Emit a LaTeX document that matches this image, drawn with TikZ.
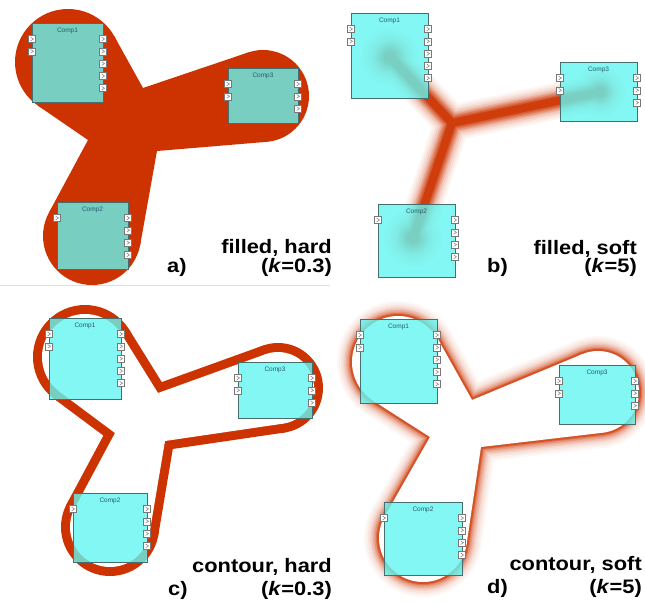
\documentclass[tikz,border=0pt]{standalone}
\usepackage{fontspec}
\setsansfont{Liberation Sans}
\usetikzlibrary{calc}

\definecolor{hotred}{RGB}{204,51,0}
\definecolor{compcyan}{RGB}{100,245,240}
\definecolor{compedge}{RGB}{70,110,110}
\definecolor{comptext}{RGB}{40,90,110}
\definecolor{portgray}{RGB}{120,120,120}
\definecolor{rulegray}{RGB}{232,218,218}

\tikzset{
  comp/.style={rectangle, draw=compedge, fill=compcyan, fill opacity=0.8, line width=0.8pt,
    inner sep=0pt, outer sep=0pt, anchor=north west},
  complabel/.style={font=\sffamily\fontsize{6.5}{7}\selectfont, text=comptext, inner sep=0pt, anchor=base},
  port/.style={rectangle, draw=portgray, fill=white, line width=0.5pt, minimum size=7pt, inner sep=0pt,
    path picture={\draw[portgray, line width=0.5pt]
      ([shift={(-1.3pt,1.8pt)}]path picture bounding box.center) --
      ([shift={(1.5pt,0pt)}]path picture bounding box.center) --
      ([shift={(-1.3pt,-1.8pt)}]path picture bounding box.center);}},
  panellabel/.style={font=\sffamily\bfseries\fontsize{19.5}{22}\selectfont, xscale=1.12, inner sep=0pt},
}

% tangent point on circle (centre #2, radius #3) seen from corner #4
\def\tgsplit#1,#2\relax#3#4{\def#3{#1}\def#4{#2}}
\newcommand{\tangpt}[5]{%
  \tgsplit#2\relax\tgcx\tgcy
  \tgsplit#4\relax\tgkx\tgky
  \pgfmathsetmacro\tgang{atan2(\tgky-\tgcy,\tgkx-\tgcx) #5 acos(#3/veclen(\tgkx-\tgcx,\tgky-\tgcy))}%
  \coordinate (#1) at ({\tgcx+#3*cos(\tgang)},{\tgcy+#3*sin(\tgang)});%
}
% three lobes: C1 r1 C2 r2 C3 r3 K13 K21 K32
\newcommand{\blobshape}[9]{%
  \coordinate (C1) at (#1); \coordinate (C2) at (#3); \coordinate (C3) at (#5);
  \coordinate (K13) at (#7); \coordinate (K21) at (#8); \coordinate (K32) at (#9);
  \def\rA{#2}\def\rB{#4}\def\rC{#6}%
  \tangpt{T1a}{#1}{#2}{#7}{-}\tangpt{T1b}{#1}{#2}{#8}{+}%
  \tangpt{T2a}{#3}{#4}{#8}{-}\tangpt{T2b}{#3}{#4}{#9}{+}%
  \tangpt{T3a}{#5}{#6}{#9}{-}\tangpt{T3b}{#5}{#6}{#7}{+}%
}
\newcommand{\blobpaint}[1]{%
  \path[#1] (C1) circle[radius=\rA] (C2) circle[radius=\rB] (C3) circle[radius=\rC];
  \path[#1] (K13) -- (T1a) -- (T1b) -- (K21) -- (T2a) -- (T2b) -- (K32) -- (T3a) -- (T3b) -- cycle;
}
\newcommand{\compbox}[7]{%
  \node[comp, minimum width=#3pt, minimum height=#4pt] (#1) at (#2) {};
  \node[complabel] (#1-label) at ($(#1.north)+(0,9)$) {#5};
  \foreach \i in {1,...,#6}
    \node[port] (#1-in\i) at ($(#1.north west)+(0,16+12.3*\i-12.3)$) {};
  \foreach \i in {1,...,#7}
    \node[port] (#1-out\i) at ($(#1.north east)+(0,16+12.3*\i-12.3)$) {};
}

\begin{document}
\begin{tikzpicture}[x=1pt, y=-1pt]
  \useasboundingbox (0,0) rectangle (645,603);

  % a) filled, hard
  \blobshape{68,62}{53}{92,236}{49}{263,96}{46}{143,88}{88,140}{157,151}
  \blobpaint{fill=hotred}
  \compbox{comp1a}{32,23}{71}{79}{Comp1}{2}{5}
  \compbox{comp3a}{228,68}{70}{55}{Comp3}{2}{3}
  \compbox{comp2a}{57,202}{71}{67}{Comp2}{1}{4}
  \draw[rulegray, line width=0.8pt] (0,285) -- (330,285);
  \node[panellabel, anchor=base east] (namea) at (332,253) {filled, hard};
  \node[panellabel, anchor=base east] (ka) at (332,272) {(\textit{k}=0.3)};
  \node[panellabel, anchor=base west] (taga) at (167,272) {a)};

  % b) filled, soft
  \coordinate (J) at (452,123);
  \coordinate (B1) at (390,57);
  \coordinate (B2) at (413,238);
  \coordinate (B3) at (600,92);
  \foreach \w/\c in {36/5,32/10,28/17,24/26,20/38,17/52,14/66,11/80,8/95}{
    \draw[hotred!\c, line width=\w pt, line cap=round, line join=round] (B1) -- (J) -- (B3) (J) -- (B2);
    \fill[hotred!\c] (B1) circle[radius=0.8*\w] (B2) circle[radius=0.8*\w] (B3) circle[radius=0.7*\w];
  }
  \compbox{comp1b}{351,13}{77}{85}{Comp1}{2}{5}
  \compbox{comp3b}{560,62}{77}{59}{Comp3}{2}{3}
  \compbox{comp2b}{378,204}{77}{73}{Comp2}{1}{4}
  \node[panellabel, anchor=base east] (nameb) at (637,254) {filled, soft};
  \node[panellabel, anchor=base east] (kb) at (637,272) {(\textit{k}=5)};
  \node[panellabel, anchor=base west] (tagb) at (487,272) {b)};

  % c) contour, hard
  \blobshape{85,357}{43}{110,527}{40}{278,388}{36}{158,393}{115,433}{165,441}
  \blobpaint{draw=hotred, line width=18pt, line join=round}
  \blobpaint{fill=white}
  \compbox{comp1c}{49,318}{72}{81}{Comp1}{2}{5}
  \compbox{comp3c}{238,362}{74}{56}{Comp3}{2}{3}
  \compbox{comp2c}{73,493}{74}{69}{Comp2}{1}{4}
  \node[panellabel, anchor=base east] (namec) at (332,572) {contour, hard};
  \node[panellabel, anchor=base east] (kc) at (332,595) {(\textit{k}=0.3)};
  \node[panellabel, anchor=base west] (tagc) at (168,595) {c)};

  % d) contour, soft
  \blobshape{398,362}{46}{423,538}{44}{598,392}{41}{472,400}{430,437}{481,447}
  \foreach \w/\c in {30/4,26/8,22/13,18/20,15/29,12/39,9/52,6/68,4/85}{
    \blobpaint{draw=hotred!\c, line width=\w pt, line join=round}
  }
  \blobpaint{fill=white}
  \compbox{comp1d}{360,319}{77}{84}{Comp1}{2}{5}
  \compbox{comp3d}{559,365}{76}{59}{Comp3}{2}{3}
  \compbox{comp2d}{384,502}{78}{73}{Comp2}{1}{4}
  \node[panellabel, anchor=base east] (named) at (642,570) {contour, soft};
  \node[panellabel, anchor=base east] (kd) at (642,593) {(\textit{k}=5)};
  \node[panellabel, anchor=base west] (tagd) at (487,593) {d)};
\end{tikzpicture}
\end{document}
